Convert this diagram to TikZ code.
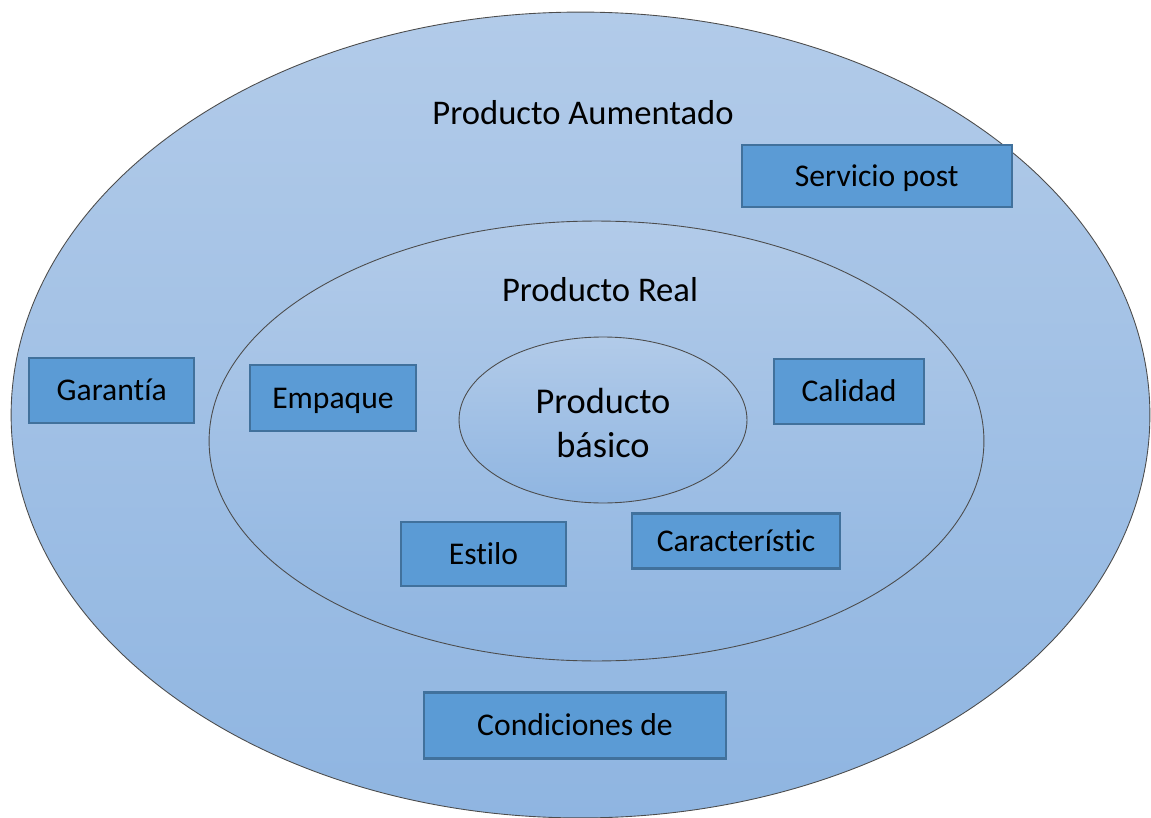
\documentclass[tikz,border=0pt]{standalone}
\usepackage{fontspec}
\setmainfont{Carlito}[Ligatures=NoCommon]
\definecolor{ringtop}{HTML}{B2CBE9}
\definecolor{ringbot}{HTML}{8FB5E1}
\definecolor{boxfill}{HTML}{5B9BD5}
\definecolor{boxline}{HTML}{41719C}
\tikzstyle{ring}=[top color=ringtop, bottom color=ringbot, draw=black!70,
line width=0.5pt]
\tikzstyle{prodbox}=[draw=boxline, fill=boxfill, line width=1.3pt,
inner sep=0pt, font=\fontsize{18}{21}\selectfont,
text height=11.6pt, text depth=0pt]
\tikzstyle{ringlabel}=[anchor=base, font=\fontsize{19.7}{23}\selectfont]

\begin{document}
\begin{tikzpicture}[x=0.02cm,y=-0.02cm]
  \useasboundingbox (0,0) rectangle (1151,817);
  \clip (0,0) rectangle (1151,817);
  \coordinate (outer) at (580.5,415);
  \coordinate (middle) at (596.5,441);
  \coordinate (inner) at (603,420);
  % Rings
  \shade[ring] (outer) ellipse [x radius=11.39cm, y radius=8.06cm];
  \shade[ring] (middle) ellipse [x radius=7.75cm, y radius=4.4cm];
  \shade[ring] (inner) ellipse [x radius=2.88cm, y radius=1.66cm];
  % Ring labels
  \node[ringlabel] (aumentado) at (583,125) {Producto Aumentado};
  \node[ringlabel] (real) at (600,301) {Producto Real};
  \node[align=center, font=\fontsize{20.7}{25}\selectfont] (basico)
    at (603,423) {Producto\\básico};
  % Boxes
  \node[prodbox, minimum width=5.4cm, minimum height=1.24cm] (servicio)
    at (876.7,176) {Servicio post};
  \node[prodbox, minimum width=3.3cm, minimum height=1.3cm] (garantia)
    at (111.7,390.8) {Garantía};
  \node[prodbox, minimum width=3.32cm, minimum height=1.32cm] (empaque)
    at (333,398) {Empaque};
  \node[prodbox, minimum width=3.0cm, minimum height=1.3cm] (calidad)
    at (849,391.7) {Calidad};
  \node[prodbox, minimum width=4.16cm, minimum height=1.1cm] (caract)
    at (736,541) {Característic};
  \node[prodbox, minimum width=3.3cm, minimum height=1.28cm] (estilo)
    at (483.5,554) {Estilo};
  \node[prodbox, minimum width=6.04cm, minimum height=1.32cm] (condiciones)
    at (575,725.5) {Condiciones de};
\end{tikzpicture}
\end{document}
